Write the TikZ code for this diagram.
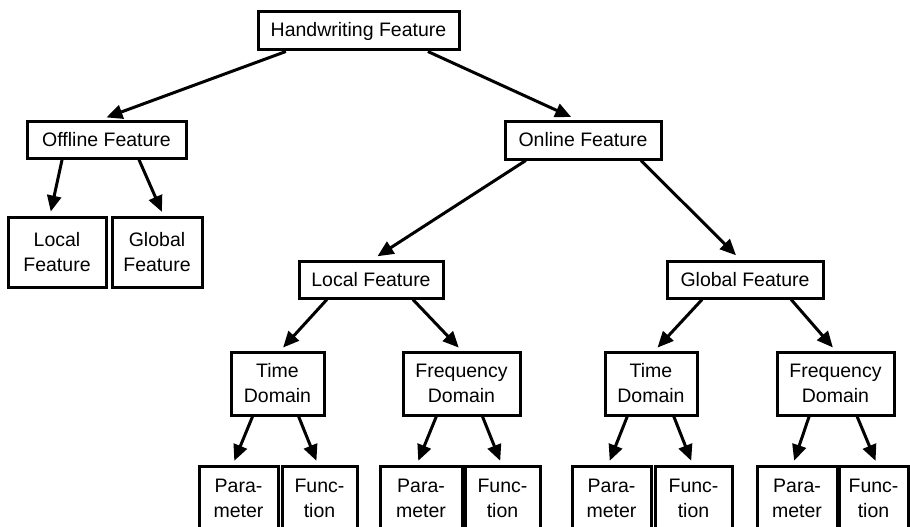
\documentclass[tikz,border=0pt]{standalone}
\usepackage{fontspec}
\setmainfont{Liberation Sans}
\usetikzlibrary{arrows.meta,calc}

\tikzset{
  box/.style={draw=black, line width=3pt, fill=white, inner sep=0pt,
    align=center, font=\fontsize{19.5}{25}\selectfont},
  link/.style={line width=3pt, -{Triangle[length=16pt,width=14pt]}, shorten >=4pt},
}

% box with corners (x1,y1)-(x2,y2), y measured downward
\newcommand{\featbox}[6]{%
  \node[box, minimum width={#4-#2}, minimum height={#5-#3}]
    (#1) at ({(#2+#4)/2},{(#3+#5)/2}) {#6};}

% arrow from fraction #2 along the bottom of #1 to fraction #4 along the top of #3
\newcommand{\featlink}[5][]{%
  \draw[link,#1] ($(#2.south west)!#3!(#2.south east)$) -- ($(#4.north west)!#5!(#4.north east)$);}

\begin{document}
\begin{tikzpicture}[x=1pt,y=-1pt]
\useasboundingbox (0,0) rectangle (910,527);
\clip (0,0) rectangle (910,527);

% level 0 and 1
\featbox{hw}{258}{12}{459}{50}{Handwriting Feature}
\featbox{off}{27}{121}{186}{158}{Offline Feature}
\featbox{on}{505}{121}{661}{159}{Online Feature}

% offline children
\featbox{lfa}{8}{217}{106}{287}{Local\\Feature}
\featbox{gfa}{112}{217}{202}{287}{Global\\Feature}

% online children
\featbox{lfb}{299}{261}{443}{298}{Local Feature}
\featbox{gfb}{667}{261}{823}{298}{Global Feature}

% domains
\featbox{tda}{231}{352}{324}{415}{Time\\Domain}
\featbox{fda}{403}{352}{520}{415}{Frequency\\Domain}
\featbox{tdb}{605}{352}{697}{415}{Time\\Domain}
\featbox{fdb}{777}{352}{894}{415}{Frequency\\Domain}

% leaves (their lower edge lies just past the frame)
\featbox{pa}{199}{466}{278}{531}{Para-\\meter}
\featbox{fna}{282}{466}{357}{531}{Func-\\tion}
\featbox{pb}{380}{466}{462}{531}{Para-\\meter}
\featbox{fnb}{465}{466}{540}{531}{Func-\\tion}
\featbox{pc}{572}{466}{651}{531}{Para-\\meter}
\featbox{fnc}{655}{466}{732}{531}{Func-\\tion}
\featbox{pd}{757}{466}{837}{531}{Para-\\meter}
\featbox{fnd}{839}{466}{908}{531}{Func-\\tion}

% connectors
\featlink[shorten >=6pt]{hw}{0.144}{off}{0.465}
\featlink[shorten >=6pt]{hw}{0.84}{on}{0.46}
\featlink{off}{0.226}{lfa}{0.43}
\featlink{off}{0.70}{gfa}{0.57}
\featlink[shorten >=6pt]{on}{0.14}{lfb}{0.51}
\featlink[shorten >=6pt]{on}{0.865}{gfb}{0.47}
\featlink{lfb}{0.20}{tda}{0.53}
\featlink{lfb}{0.785}{fda}{0.50}
\featlink{gfb}{0.23}{tdb}{0.54}
\featlink{gfb}{0.79}{fdb}{0.50}
\featlink{tda}{0.24}{pa}{0.43}
\featlink{tda}{0.72}{fna}{0.48}
\featlink{fda}{0.29}{pb}{0.45}
\featlink{fda}{0.675}{fnb}{0.49}
\featlink{tdb}{0.25}{pc}{0.46}
\featlink{tdb}{0.74}{fnc}{0.49}
\featlink{fdb}{0.28}{pd}{0.45}
\featlink{fdb}{0.68}{fnd}{0.55}
\end{tikzpicture}
\end{document}
